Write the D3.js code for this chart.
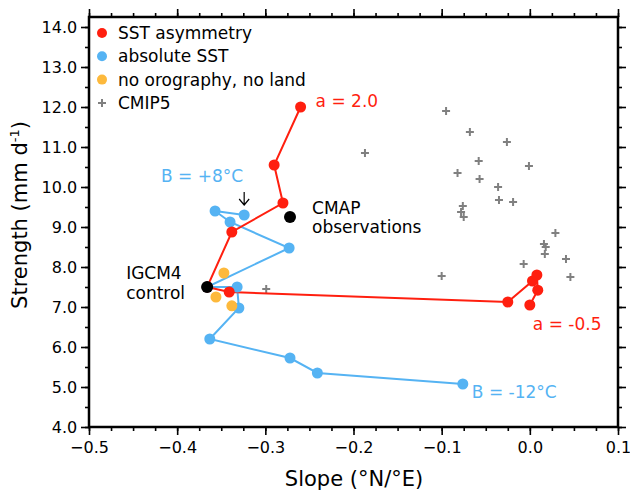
<!DOCTYPE html>
<html lang='en'>
	<head>
		<title>Strength vs slope</title>
		<script type='text/javascript' src='https://cdn.jsdelivr.net/npm/d3@7'></script>
		<style>
			body { margin: 0; background: #fff; }
			text { font-family: 'DejaVu Sans', sans-serif; }
		</style>
	</head>
	<body>
		<script type='text/javascript'>
		// data: [slope, strength]
		var sst_asym = [[-0.260,12.0],[-0.290,10.55],[-0.280,9.6],[-0.338,8.875],[-0.366,7.5],[-0.341,7.375],
			[-0.025,7.125],[0.003,7.65],[0.008,7.8],[0.009,7.42],[0.0,7.05]]
		var abs_sst = [[-0.324,9.3],[-0.357,9.4],[-0.340,9.125],[-0.273,8.475],[-0.366,7.5],[-0.332,7.5],
			[-0.330,6.975],[-0.363,6.2],[-0.272,5.725],[-0.241,5.35],[-0.076,5.075]]
		var no_oro = [[-0.347,7.85],[-0.356,7.25],[-0.338,7.03]]
		var cmip5 = [[-0.095,11.9],[-0.068,11.375],[-0.026,11.125],[-0.058,10.65],[-0.001,10.525],[-0.082,10.35],
			[-0.057,10.2],[-0.036,10.0],[-0.035,9.675],[-0.019,9.625],[-0.076,9.525],[-0.078,9.375],[-0.075,9.25],
			[0.029,8.85],[0.016,8.575],[0.018,8.5],[0.017,8.325],[0.041,8.2],[-0.007,8.075],[0.046,7.75],[-0.1,7.775],
			[-0.187,10.85],[-0.299,7.45]]
		var control = [-0.366,7.5], cmap = [-0.272,9.25]
		var x_ticks = [-0.5,-0.4,-0.3,-0.2,-0.1,0.0,0.1]
		var y_ticks = [4,5,6,7,8,9,10,11,12,13,14]
		var legend_items = [['SST asymmetry','red'],['absolute SST','blue'],['no orography, no land','orange'],['CMIP5','cross']]

		{
			var width = 630, height = 494
			var red = '#ff1f0f', blue = '#55b3f3', orange = '#fdb93c', grey = '#808080'
			var svg = d3.select('body').append('svg').attr('width', width).attr('height', height)

			var x = d3.scaleLinear().domain([-0.5,0.1]).range([89,618])
			var y = d3.scaleLinear().domain([4,14.25]).range([427,17])

			var x_minor = d3.range(-0.5,0.1001,0.025), y_minor = d3.range(4,14.01,0.5)

			function axis(gen, vals, len, tr, labels) {
				var g = svg.append('g').attr('transform', tr)
					.call(gen.tickValues(vals).tickSize(len).tickFormat(labels ? d3.format('.1f') : ''))
				g.select('.domain').remove()
				g.selectAll('line').attr('stroke','#000').attr('stroke-width',1.6)
				g.selectAll('text').attr('font-size',16).attr('fill','#000')
				return g
			}
			axis(d3.axisBottom(x), x_minor, 4, 'translate(0,427)', false)
			axis(d3.axisBottom(x), x_ticks, 8, 'translate(0,427)', true).selectAll('text').attr('dy','0.95em')
			axis(d3.axisTop(x), x_minor, 4, 'translate(0,17)', false)
			axis(d3.axisTop(x), x_ticks, 8, 'translate(0,17)', false)
			axis(d3.axisLeft(y), y_minor, 4, 'translate(89,0)', false)
			axis(d3.axisLeft(y), y_ticks, 8, 'translate(89,0)', true).selectAll('text').attr('dx','-0.05em')
			axis(d3.axisRight(y), y_minor, 4, 'translate(618,0)', false)
			axis(d3.axisRight(y), y_ticks, 8, 'translate(618,0)', false)

			svg.append('rect').attr('x',89).attr('y',17).attr('width',529).attr('height',410)
				.attr('fill','none').attr('stroke','#000').attr('stroke-width',2.5)

			svg.append('text').attr('x',354).attr('y',486).attr('text-anchor','middle').attr('font-size',21).text('Slope (°N/°E)')
			var yt = svg.append('text').attr('transform','translate(27,215) rotate(-90)').attr('text-anchor','middle').attr('font-size',21)
			yt.append('tspan').text('Strength (mm d')
			yt.append('tspan').attr('dy',-8).attr('font-size',13).text('-1')
			yt.append('tspan').attr('dy',8).text(')')

			// CMIP5 crosses
			svg.selectAll('path.cmip').data(cmip5).enter().append('path').attr('class','cmip')
				.attr('d', d => 'M'+(x(d[0])-4)+','+y(d[1])+'h8M'+x(d[0])+','+(y(d[1])-4)+'v8')
				.attr('stroke',grey).attr('stroke-width',2)

			var line = d3.line().x(d => x(d[0])).y(d => y(d[1]))
			svg.append('path').attr('d', line(abs_sst)).attr('fill','none').attr('stroke',blue).attr('stroke-width',2)
			svg.append('path').attr('d', line(sst_asym)).attr('fill','none').attr('stroke',red).attr('stroke-width',2)

			function dots(data, col, r) {
				svg.append('g').selectAll('circle').data(data).enter().append('circle')
					.attr('cx', d => x(d[0])).attr('cy', d => y(d[1])).attr('r', r).attr('fill', col)
			}
			dots(abs_sst, blue, 5.5)
			dots(no_oro, orange, 5.5)
			dots(sst_asym, red, 5.5)
			dots([control, cmap], '#000', 6)

			// annotations
			function label(tx, ty, txt, col, anchor) {
				svg.append('text').attr('x',tx).attr('y',ty).attr('font-size',17).attr('fill',col)
					.attr('text-anchor',anchor || 'start').attr('dominant-baseline','central').text(txt)
			}
			label(x(-0.260)+15, y(12.0)-6, 'a = 2.0', red)
			label(x(0.0)+3, y(7.05)+19, 'a = -0.5', red)
			label(x(-0.324)-1, y(9.3)-39, 'B = +8°C', blue, 'end')
			label(x(-0.076)+9, y(5.075)+8, 'B = -12°C', blue)
			label(x(cmap[0])+22, y(cmap[1])-9, 'CMAP', '#000')
			label(x(cmap[0])+22, y(cmap[1])+10, 'observations', '#000')
			label(x(control[0])-81, y(control[1])-14, 'IGCM4', '#000')
			label(x(control[0])-81, y(control[1])+6, 'control', '#000')

			// arrow pointing to B = +8
			var ax = x(-0.324), ay = y(9.3)
			svg.append('path').attr('d','M'+ax+','+(ay-23)+'v13M'+(ax-5)+','+(ay-16)+'l5,6l5,-6')
				.attr('fill','none').attr('stroke','#000').attr('stroke-width',1.2)

			// legend
			var lg = svg.append('g').selectAll('g').data(legend_items).enter().append('g')
				.attr('transform', (d,i) => 'translate(102,' + (33 + i*23.3) + ')')
			lg.filter(d => d[1] != 'cross').append('circle').attr('r',5)
				.attr('fill', d => d[1] == 'red' ? red : d[1] == 'blue' ? blue : orange)
			lg.filter(d => d[1] == 'cross').append('path').attr('d','M-4,0h8M0,-4v8').attr('stroke',grey).attr('stroke-width',2)
			lg.append('text').attr('x',16).attr('font-size',17).attr('dominant-baseline','central').text(d => d[0])
		}
		</script>
	</body>
</html>
